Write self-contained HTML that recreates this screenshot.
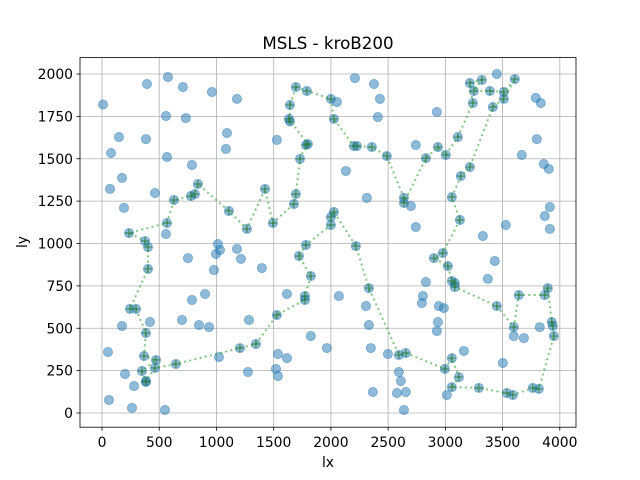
<!DOCTYPE html>
<html><head><meta charset="utf-8"><style>
body{margin:0;background:#fff}
svg{display:block;font-family:"DejaVu Sans","Liberation Sans",sans-serif}
</style></head><body>
<svg id="chart" width="640" height="480" viewBox="0 0 640 480">
<rect width="640" height="480" fill="#fff"/>
<g id="grid"></g>
<g id="cities"></g>
<g id="tour"></g>
<rect x="80" y="57.6" width="496" height="369.6" fill="none" stroke="#000" stroke-width="0.8"/>
<g id="ticks"></g>
<text x="328" y="49" text-anchor="middle" font-size="16.7">MSLS - kroB200</text>
<text x="328" y="467" text-anchor="middle" font-size="13.9">lx</text>
<text x="27" y="242" text-anchor="middle" font-size="13.9" transform="rotate(-90 27 242)">ly</text>
</svg>
<script>
const xTicks=[0,500,1000,1500,2000,2500,3000,3500,4000];
const yTicks=[0,250,500,750,1000,1250,1500,1750,2000];
const otherX=[9,393,576,707,960,1179,559,733,148,384,79,568,1092,1083,786,1528,175,70,463,192,559,2052,2210,2376,2428,2410,2131,2742,2926,2314,2699,3450,3790,3834,3799,3668,3860,3904,3913,3869,3913,3528,3328,2742,175,419,52,201,280,61,262,550,751,1013,1031,996,1179,1214,978,1397,786,900,699,847,935,1284,1022,1275,1537,1616,1520,1537,1616,1825,1965,2070,2306,2332,2349,2367,2498,2594,2611,2577,2655,2638,3432,2830,3371,2804,2795,2943,2987,2935,2926,3162,3013,3502,3598,3686,3825];
const otherY=[1820,1941,1982,1923,1894,1853,1752,1740,1628,1616,1534,1510,1652,1558,1463,1611,1387,1322,1298,1210,1056,1835,1976,1941,1853,1746,1428,1581,1776,1269,1221,2000,1859,1829,1616,1522,1469,1440,1215,1162,1086,1109,1044,1097,513,537,360,230,159,77,30,18,914,997,962,938,968,909,844,855,667,702,549,519,507,549,330,242,348,324,260,218,702,454,383,690,631,519,383,124,348,242,189,118,124,18,897,773,791,690,649,631,619,537,484,366,106,295,454,442,507];
const tourX=[1694,1790,2000,2026,2201,2227,2358,2489,2638,2638,2830,2935,3004,3109,3240,3214,3319,3249,3389,3511,3607,3511,3415,3214,3135,3057,3127,2978,2900,3022,3057,3083,3083,3450,3598,3642,3869,3895,3930,3939,3948,3817,3764,3590,3537,3293,3057,3118,3057,2996,2655,2594,2332,2218,2026,2000,2000,1782,1721,1825,1773,1773,1528,1345,1205,646,463,384,384,349,472,367,384,297,245,402,402,376,236,568,629,777,812,838,1109,1266,1424,1493,1677,1694,1730,1782,1799,1633,1642,1642];
const tourY=[1923,1900,1853,1735,1575,1575,1569,1516,1269,1239,1504,1569,1522,1628,1829,1947,1965,1900,1900,1894,1970,1853,1805,1451,1398,1274,1139,944,914,867,779,767,743,631,507,696,696,737,537,513,454,142,148,106,118,148,153,212,324,260,354,342,737,985,1186,1156,1109,991,926,808,690,667,578,407,383,289,266,189,183,248,313,336,472,614,614,850,979,1015,1062,1121,1257,1280,1292,1351,1192,1086,1322,1121,1233,1292,1499,1581,1587,1735,1720,1817];
const X0=80,X1=576,Y0=57.6,Y1=427.2;
const sx=v=>102+v*0.11445;
const sy=v=>413-v*0.1695;
const NS='http://www.w3.org/2000/svg';
function mk(t,a,p){const e=document.createElementNS(NS,t);for(const k in a)e.setAttribute(k,a[k]);p.appendChild(e);return e;}
const grid=document.getElementById('grid'),ticks=document.getElementById('ticks');
xTicks.forEach(v=>{const x=sx(v);
const g=mk('line',{x1:x,x2:x,y1:Y0,y2:Y1,stroke:'#b0b0b0','stroke-width':0.8},grid);


const t=mk('line',{x1:x,x2:x,y1:Y1,y2:Y1+3.5,stroke:'#000','stroke-width':0.8},ticks);


const l=mk('text',{x:x,y:Y1+20,'text-anchor':'middle','font-size':13.9},ticks);l.textContent=v;

});
yTicks.forEach(v=>{const y=sy(v);
const g=mk('line',{x1:X0,x2:X1,y1:y,y2:y,stroke:'#b0b0b0','stroke-width':0.8},grid);


const t=mk('line',{x1:X0-3.5,x2:X0,y1:y,y2:y,stroke:'#000','stroke-width':0.8},ticks);


const l=mk('text',{x:X0-7,y:y+5,'text-anchor':'end','font-size':13.9},ticks);l.textContent=v;

});
const cities=document.getElementById('cities');
function city(x,y){const c=mk('circle',{cx:sx(x),cy:sy(y),r:4.6,fill:'#1f77b4','fill-opacity':0.5,stroke:'#1f77b4','stroke-opacity':0.5,'stroke-width':0.8},cities);

}
otherX.forEach((x,i)=>city(x,otherY[i]));
tourX.forEach((x,i)=>city(x,tourY[i]));
const tour=document.getElementById('tour');
let d='';tourX.forEach((x,i)=>{d+=(i?'L':'M')+sx(x).toFixed(1)+' '+sy(tourY[i]).toFixed(1);});d+='Z';
const p=mk('path',{d:d,fill:'none',stroke:'#2ca02c','stroke-opacity':0.6,'stroke-width':2,'stroke-dasharray':'2 3.3'},tour);


tourX.forEach((x,i)=>{const cx=sx(x),cy=sy(tourY[i]);
const m=mk('path',{d:`M${cx-4} ${cy}H${cx+4}M${cx} ${cy-4}V${cy+4}`,stroke:'#2a7a3a','stroke-opacity':0.8,'stroke-width':1.2},tour);

});
</script>
</body></html>
